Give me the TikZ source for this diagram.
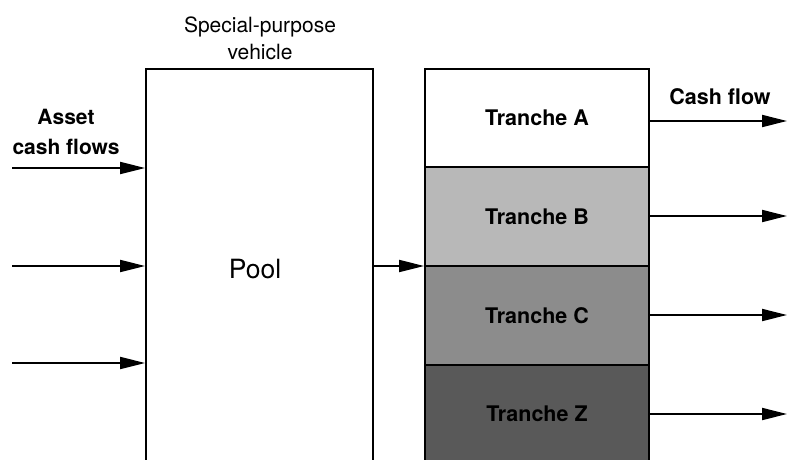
\documentclass[tikz,border=0pt]{standalone}
\usepackage{fontspec}
\setmainfont{TeX Gyre Heros}
\usetikzlibrary{arrows.meta}
\definecolor{trB}{gray}{0.72}
\definecolor{trC}{gray}{0.55}
\definecolor{trZ}{gray}{0.35}
\begin{document}
\begin{tikzpicture}[x=1pt,y=-1pt,
  box/.style={draw=black,line width=1.8pt,rectangle,inner sep=0pt},
  tranche/.style={box,minimum width=224pt,minimum height=98.7pt,font=\fontsize{21.5}{26}\selectfont\bfseries},
  flow/.style={line width=1.9pt,-{Triangle[length=25pt,width=12pt]}},
  lbl/.style={align=center,inner sep=0pt}]
\useasboundingbox (0,0) rectangle (787,459);
\clip (0,0) rectangle (787,459);
% pool
\node[box,minimum width=227pt,minimum height=411pt] (pool) at (259.5,274.5) {};
\node[lbl,font=\fontsize{26.5}{30}\selectfont] (pooltxt) at (255,269) {Pool};
\node[lbl,font=\fontsize{21}{27}\selectfont] (spv) at (260,38) {Special-purpose\\vehicle};
% tranches
\node[tranche,fill=white] (tA) at (537,118) {Tranche A};
\node[tranche,fill=trB] (tB) at (537,216.7) {Tranche B};
\node[tranche,fill=trC] (tC) at (537,315.4) {Tranche C};
\node[tranche,fill=trZ,text=black] (tZ) at (537,414.1) {Tranche Z};
% labels
\node[lbl,font=\fontsize{21}{30}\selectfont\bfseries] (acf) at (66,132) {Asset\\cash flows};
\node[lbl,font=\fontsize{21.5}{24}\selectfont\bfseries] (cf) at (720,97) {Cash flow};
% input arrows
\coordinate (i1) at (12,168);
\coordinate (i2) at (12,266);
\coordinate (i3) at (12,363);
\foreach \c in {i1,i2,i3} \draw[flow] (\c) -- (\c -| pool.west);
% pool to tranches
\coordinate (pt) at (373,266);
\draw[flow] (pool.east |- pt) -- (tB.south west |- pt);
% output arrows
\foreach \t/\yy in {tA/121,tB/216,tC/315,tZ/414} {
  \coordinate (o\t) at (787,\yy);
  \draw[flow] (\t.east |- o\t) -- (o\t);
}
\end{tikzpicture}
\end{document}
